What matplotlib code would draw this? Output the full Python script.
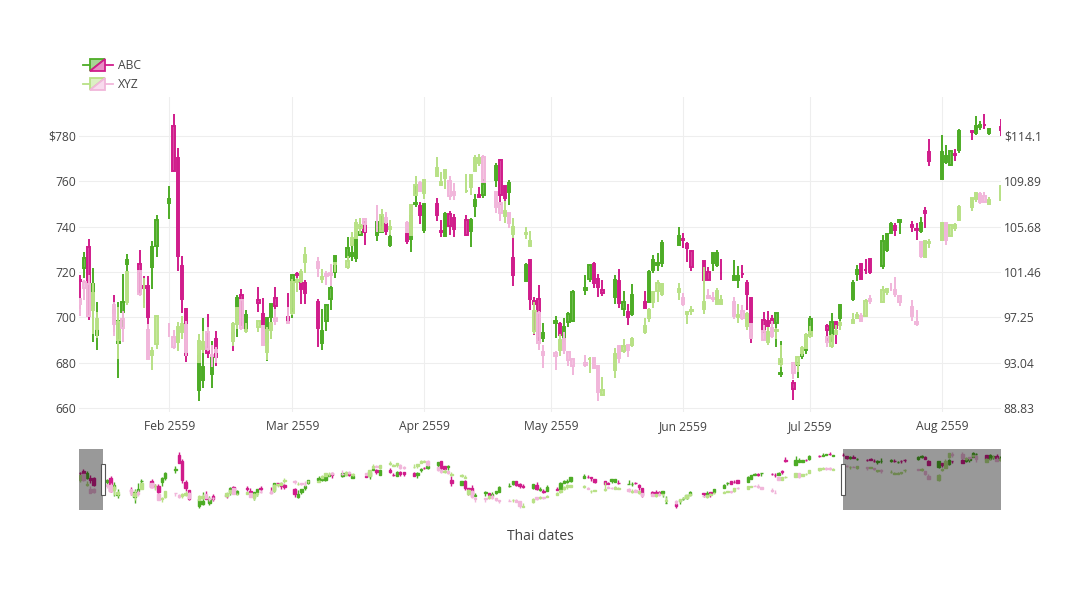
import datetime as dt
import matplotlib
matplotlib.use("Agg")
import matplotlib.pyplot as plt
import matplotlib.dates as mdates
import matplotlib.transforms as mtransforms
from matplotlib.collections import LineCollection, PolyCollection
from matplotlib.patches import Rectangle, Polygon
from matplotlib.lines import Line2D
from matplotlib.legend_handler import HandlerBase
from matplotlib.colors import to_rgba

plt.rcParams['font.family'] = ['Open Sans', 'DejaVu Sans']

# ---------------- data ----------------
dates = (
    ["2016-01-%02d" % d for d in [4, 5, 6, 7, 8, 11, 12, 13, 14, 15, 19, 20, 21, 22, 25, 26, 27, 28, 29]]
    + ["2016-02-%02d" % d for d in [1, 2, 3, 4, 5, 8, 9, 10, 11, 12, 16, 17, 18, 19, 22, 23, 24, 25, 26, 29]]
    + ["2016-03-%02d" % d for d in [1, 2, 3, 4, 7, 8, 9, 10, 11, 14, 15, 16, 17, 18, 21, 22, 23, 24, 28, 29, 30, 31]]
    + ["2016-04-%02d" % d for d in [1, 4, 5, 6, 7, 8, 11, 12, 13, 14, 15, 18, 19, 20, 21, 22, 25, 26, 27, 28, 29]]
    + ["2016-05-%02d" % d for d in [2, 3, 4, 5, 6, 9, 10, 11, 12, 13, 16, 17, 18, 19, 20, 23, 24, 25, 26, 27, 31]]
    + ["2016-06-%02d" % d for d in [1, 2, 3, 6, 7, 8, 9, 10, 13, 14, 15, 16, 17, 20, 21, 22, 23, 24, 27, 28, 29, 30]]
    + ["2016-07-%02d" % d for d in [1, 5, 6, 7, 8, 11, 12, 13, 14, 15, 18, 19, 20, 21, 22, 25, 26, 27, 28, 29]]
    + ["2016-08-%02d" % d for d in [1, 2, 3, 4, 5, 8, 9, 10, 11, 12, 15, 16, 17, 18, 19, 22, 23, 24, 25, 26, 29, 30, 31]]
    + ["2016-09-%02d" % d for d in [1, 2, 6, 7, 8, 9, 12, 13, 14, 15, 16, 19, 20, 21, 22, 23, 26, 27, 28, 29, 30]]
)

abc_open = [
    743.00, 746.45, 730.00, 730.31, 731.45, 716.61, 721.68, 730.85, 705.38, 692.29, 703.30, 688.61, 702.18, 723.60, 723.58, 713.85, 713.67, 722.22, 731.53,
    750.46, 784.50, 770.22, 722.81, 703.87, 667.85, 672.32, 686.86, 675.00, 690.26, 692.98, 699.00, 710.00, 695.03, 707.45, 701.45, 688.92, 700.01, 708.58, 700.32,
    703.62, 719.00, 718.68, 714.99, 706.90, 688.59, 698.47, 708.12, 720.00, 726.81, 726.92, 726.37, 736.45, 741.86, 736.50, 737.46, 742.36, 732.01, 736.79, 734.59, 750.10, 749.25,
    738.60, 750.06, 738.00, 735.77, 745.37, 743.97, 743.02, 738.00, 749.16, 754.01, 753.98, 760.46, 769.51, 758.00, 755.38, 726.30, 716.10, 725.42, 707.29, 708.26, 690.70,
    697.63, 696.87, 690.49, 697.70, 698.38, 712.00, 716.75, 723.41, 717.06, 711.93, 709.13, 715.99, 703.67, 702.36, 701.62, 706.53, 706.86, 720.76, 722.87, 724.01, 731.74,
    734.53, 732.50, 729.27, 724.91, 719.84, 723.96, 722.87, 719.47, 716.51, 716.48, 719.00, 714.91, 708.65, 698.77, 698.40, 699.06, 697.45, 675.17, 671.00, 678.97, 683.00, 685.47,
    692.20, 696.06, 689.98, 698.08, 699.50, 708.05, 719.12, 723.62, 721.08, 725.73, 722.71, 729.89, 737.33, 740.36, 741.86, 740.67, 739.04, 738.28, 747.04, 772.71,
    761.09, 768.69, 767.18, 772.22, 773.78, 782.00, 781.10, 783.75, 785.00, 781.50, 783.75, 780.30, 777.32, 780.01, 775.00, 773.27, 775.48, 770.58, 767.00, 769.00, 768.74, 769.33, 767.01,
    769.25, 773.01, 773.45, 780.00, 778.59, 770.10, 755.13, 764.48, 759.61, 762.89, 769.75, 772.42, 769.00, 772.66, 780.00, 786.59, 782.74, 775.50, 777.85, 781.44, 776.33,
]
abc_high = [
    744.06, 752.00, 747.18, 738.50, 733.23, 718.86, 728.75, 734.74, 721.92, 706.74, 709.98, 706.85, 719.19, 728.13, 729.68, 718.28, 718.24, 733.69, 744.99,
    757.86, 789.87, 774.50, 727.00, 703.99, 684.03, 699.90, 701.31, 689.35, 693.75, 698.00, 709.75, 712.35, 703.08, 713.24, 708.40, 700.00, 705.98, 713.43, 710.89,
    718.81, 720.00, 719.45, 716.49, 708.09, 703.79, 705.68, 716.44, 726.92, 735.50, 732.29, 737.47, 743.07, 742.00, 742.50, 745.00, 745.72, 737.75, 738.99, 747.25, 757.88, 750.85,
    750.34, 752.80, 742.80, 746.24, 747.00, 745.45, 745.00, 743.83, 754.38, 757.31, 761.00, 768.05, 769.90, 758.13, 760.45, 736.12, 723.93, 725.77, 708.98, 714.17, 697.62,
    700.64, 697.84, 699.75, 702.32, 711.86, 718.71, 723.50, 724.48, 719.25, 716.66, 718.48, 721.52, 711.60, 706.00, 714.58, 711.48, 720.97, 727.51, 728.33, 733.94, 739.73,
    737.21, 733.02, 729.49, 724.91, 721.98, 728.57, 729.54, 725.89, 725.44, 722.47, 722.98, 716.65, 708.82, 702.48, 702.77, 700.86, 701.95, 689.40, 672.30, 680.33, 687.43, 692.32,
    700.65, 696.94, 701.68, 698.20, 705.71, 716.51, 722.94, 724.00, 725.52, 725.74, 736.13, 736.99, 742.13, 741.69, 743.24, 742.61, 741.69, 744.46, 748.65, 778.55,
    780.43, 775.84, 773.21, 774.07, 783.04, 782.63, 788.94, 786.81, 789.75, 783.40, 787.49, 780.98, 780.81, 782.86, 777.10, 774.54, 776.44, 774.50, 771.89, 776.08, 774.99, 774.47, 769.09,
    771.02, 773.92, 782.00, 782.73, 780.35, 773.24, 770.29, 766.22, 767.68, 773.80, 769.75, 774.00, 773.33, 777.16, 789.43, 788.93, 782.74, 785.99, 781.81, 785.80, 780.94,
]
abc_low = [
    731.26, 738.64, 728.92, 719.06, 713.00, 703.54, 717.32, 698.61, 689.10, 685.37, 693.41, 673.26, 694.46, 720.12, 710.01, 706.48, 694.39, 712.35, 726.80,
    743.27, 764.65, 720.50, 701.86, 680.15, 663.06, 668.77, 682.13, 668.87, 678.60, 685.05, 691.38, 696.03, 694.05, 702.51, 693.58, 680.78, 690.58, 700.86, 697.68,
    699.77, 712.00, 706.02, 706.02, 686.90, 685.34, 694.00, 703.36, 717.12, 725.15, 724.77, 724.51, 736.00, 731.83, 733.52, 737.46, 736.15, 731.00, 732.50, 728.76, 748.74, 740.94,
    737.00, 742.43, 735.37, 735.56, 736.28, 735.55, 736.05, 731.01, 744.26, 752.71, 752.69, 757.30, 749.33, 750.01, 749.55, 713.61, 715.59, 703.03, 692.36, 689.55, 689.00,
    691.00, 692.01, 689.01, 695.72, 698.11, 710.00, 715.72, 712.80, 709.00, 709.26, 705.65, 704.11, 700.63, 696.80, 700.52, 704.18, 706.86, 719.70, 720.28, 722.31, 731.26,
    730.66, 724.17, 720.56, 714.61, 716.55, 720.58, 722.34, 716.43, 716.51, 713.12, 717.31, 703.26, 688.45, 693.41, 692.01, 693.08, 687.00, 673.45, 663.28, 673.00, 681.41, 683.65,
    692.13, 688.88, 689.09, 688.22, 696.43, 707.24, 715.91, 716.85, 719.11, 719.06, 721.19, 729.00, 737.10, 735.83, 736.56, 737.50, 734.27, 737.00, 739.30, 766.77,
    761.09, 767.85, 766.82, 768.80, 772.34, 778.09, 780.57, 782.78, 782.97, 780.40, 780.11, 773.44, 773.53, 777.00, 773.13, 770.05, 771.78, 767.07, 763.18, 765.85, 766.62, 766.84, 765.38,
    764.30, 768.41, 771.00, 776.20, 773.58, 759.66, 754.00, 755.80, 759.11, 759.96, 764.66, 764.44, 768.53, 768.30, 780.00, 784.15, 773.07, 774.31, 774.97, 773.62, 774.09,
]
abc_close = [
    741.84, 742.58, 743.62, 726.39, 714.47, 716.03, 726.07, 700.56, 714.72, 694.45, 701.79, 698.45, 706.59, 725.25, 711.67, 713.04, 699.99, 730.96, 742.95,
    752.00, 764.65, 726.95, 708.01, 683.57, 682.74, 678.11, 684.12, 683.11, 682.40, 691.00, 708.40, 697.35, 700.91, 706.46, 695.85, 699.56, 705.75, 705.07, 697.77,
    718.81, 718.85, 712.42, 710.89, 695.16, 693.97, 705.24, 712.82, 726.82, 730.49, 728.33, 736.09, 737.78, 737.60, 742.09, 740.75, 738.06, 735.30, 733.53, 744.77, 750.53, 744.95,
    749.91, 745.29, 737.80, 745.69, 740.28, 739.15, 736.10, 743.09, 751.72, 753.20, 759.00, 766.61, 753.93, 752.67, 759.14, 718.77, 723.15, 708.14, 705.84, 691.02, 693.01,
    698.21, 692.36, 695.70, 701.43, 711.12, 712.90, 723.18, 715.29, 713.31, 710.83, 716.49, 706.23, 706.63, 700.32, 709.74, 704.24, 720.09, 725.27, 724.12, 732.66, 735.72,
    734.15, 730.40, 722.34, 716.55, 716.65, 728.28, 728.58, 719.41, 718.36, 718.27, 718.92, 710.36, 691.72, 693.71, 695.94, 697.46, 701.87, 675.22, 668.26, 680.04, 684.11, 692.10,
    699.21, 694.49, 697.77, 695.36, 705.63, 715.09, 720.64, 716.98, 720.95, 719.85, 733.78, 736.96, 741.19, 738.63, 742.74, 739.77, 738.42, 741.77, 745.91, 768.79,
    772.88, 771.07, 773.18, 771.61, 782.22, 781.76, 784.26, 784.68, 784.85, 783.22, 782.44, 777.14, 779.91, 777.50, 775.42, 772.15, 772.08, 769.64, 769.41, 769.54, 772.15, 769.09, 767.05,
    768.78, 771.46, 780.08, 780.35, 775.32, 759.66, 769.02, 759.69, 762.49, 771.76, 768.88, 765.70, 771.41, 776.22, 787.21, 786.90, 774.21, 783.01, 781.56, 775.01, 777.29,
]

xyz_open = [
    102.61, 105.75, 100.56, 98.68, 98.55, 98.97, 100.55, 100.32, 97.96, 96.20, 98.41, 95.10, 97.06, 98.63, 101.52, 99.93, 96.04, 93.79, 94.79,
    96.47, 95.42, 95.00, 95.86, 96.52, 93.13, 94.29, 95.92, 93.79, 94.19, 95.02, 96.67, 98.84, 96.00, 96.31, 96.40, 93.98, 96.05, 97.20, 96.86,
    97.65, 100.51, 100.58, 102.37, 102.39, 100.78, 101.31, 101.41, 102.24, 101.91, 103.96, 104.61, 105.52, 106.34, 105.93, 105.25, 106.48, 105.47, 106.00, 104.89, 108.65, 109.72,
    108.78, 110.42, 109.51, 110.23, 109.95, 108.91, 108.97, 109.34, 110.80, 111.62, 112.11, 108.89, 107.88, 106.64, 106.93, 105.01, 105.00, 103.91, 96.00, 97.61, 93.99,
    93.97, 94.20, 95.20, 94.00, 93.37, 93.00, 93.33, 93.48, 92.72, 90.00, 92.39, 94.55, 94.16, 94.64, 94.64, 95.87, 97.22, 98.67, 99.68, 99.44, 99.60,
    99.02, 97.60, 97.79, 97.99, 99.25, 99.02, 98.50, 98.53, 98.69, 97.32, 97.82, 96.45, 96.62, 96.00, 94.94, 96.25, 95.94, 92.91, 93.00, 92.90, 93.97, 94.44,
    95.49, 95.39, 94.60, 95.70, 96.49, 96.75, 97.17, 97.41, 97.39, 98.92, 98.70, 99.56, 100.00, 99.83, 99.26, 98.25, 96.82, 104.27, 102.83, 104.19,
    104.41, 106.05, 104.81, 105.58, 106.27, 107.52, 108.23, 108.71, 108.52, 107.78, 108.14, 109.63, 109.10, 109.23, 108.77, 108.86, 108.59, 108.57, 107.39, 107.41, 106.62, 105.80, 105.66,
    106.14, 107.70, 107.90, 107.83, 107.25, 104.64, 102.65, 107.51, 108.73, 113.86, 115.12, 115.19, 113.05, 113.85, 114.35, 114.42, 111.64, 113.00, 113.69, 113.16, 112.46,
]
xyz_high = [
    105.37, 105.85, 102.37, 100.13, 99.11, 99.06, 100.69, 101.19, 100.48, 97.71, 98.65, 98.19, 97.88, 101.46, 101.53, 100.88, 96.63, 94.52, 97.34,
    96.71, 96.04, 96.84, 97.33, 96.92, 95.70, 95.94, 96.35, 94.72, 94.50, 96.85, 98.21, 98.89, 96.76, 96.90, 96.50, 96.38, 96.76, 98.02, 98.23,
    100.77, 100.89, 101.71, 103.75, 102.83, 101.76, 101.58, 102.24, 102.28, 102.91, 105.18, 106.35, 106.47, 106.50, 107.65, 107.29, 107.07, 106.25, 106.19, 107.79, 110.42, 109.90,
    110.00, 112.19, 110.73, 110.98, 110.42, 109.77, 110.61, 110.50, 112.34, 112.39, 112.30, 108.95, 108.00, 108.09, 106.93, 106.48, 105.65, 105.30, 98.71, 97.88, 94.72,
    94.08, 95.74, 95.90, 94.07, 93.45, 93.77, 93.57, 93.57, 92.78, 91.67, 94.39, 94.70, 95.21, 94.64, 95.43, 97.19, 98.09, 99.74, 100.73, 100.47, 100.40,
    99.54, 97.84, 98.27, 101.89, 99.87, 99.56, 99.99, 99.35, 99.12, 98.48, 98.41, 97.75, 96.65, 96.57, 96.35, 96.89, 96.29, 94.66, 93.05, 93.66, 94.55, 95.77,
    96.47, 95.40, 95.66, 96.50, 96.89, 97.65, 97.70, 97.67, 98.99, 99.30, 100.13, 100.00, 100.46, 101.00, 99.30, 98.84, 97.97, 104.35, 104.45, 104.55,
    106.15, 106.07, 105.84, 106.00, 107.65, 108.37, 108.94, 108.90, 108.93, 108.44, 109.54, 110.23, 109.37, 109.60, 109.69, 109.10, 109.32, 108.75, 107.88, 107.95, 107.44, 106.50, 106.57,
    106.80, 108.00, 108.30, 108.76, 107.27, 105.72, 105.72, 108.79, 113.03, 115.73, 116.13, 116.18, 114.12, 113.99, 114.94, 114.79, 113.39, 113.18, 114.64, 113.80, 113.37,
]
xyz_low = [
    102.00, 102.41, 99.87, 96.43, 96.76, 97.34, 98.84, 97.30, 95.74, 95.36, 95.50, 93.42, 94.94, 98.37, 99.21, 98.07, 93.34, 92.39, 94.35,
    95.40, 94.28, 94.08, 95.19, 93.69, 93.04, 93.93, 94.10, 92.59, 93.01, 94.61, 96.15, 96.09, 95.80, 95.92, 94.55, 93.32, 95.25, 96.58, 96.65,
    97.42, 99.64, 100.45, 101.37, 100.96, 100.40, 100.27, 100.15, 101.50, 101.78, 103.85, 104.59, 104.96, 105.19, 105.14, 105.21, 105.90, 104.89, 105.06, 104.88, 108.60, 108.88,
    108.20, 110.27, 109.42, 109.20, 108.12, 108.17, 108.83, 108.66, 110.80, 111.33, 109.73, 106.94, 106.23, 106.06, 105.52, 104.62, 104.51, 103.91, 95.68, 94.25, 92.51,
    92.40, 93.68, 93.82, 92.68, 91.85, 92.59, 92.11, 92.46, 89.47, 90.00, 91.65, 93.01, 93.89, 93.57, 94.52, 95.67, 96.84, 98.11, 98.64, 99.25, 98.82,
    98.33, 96.63, 97.45, 97.55, 98.96, 98.68, 98.46, 98.48, 97.10, 96.75, 97.03, 96.07, 95.30, 95.03, 94.68, 95.35, 95.25, 92.65, 91.50, 92.14, 93.63, 94.30,
    95.33, 94.46, 94.37, 95.62, 96.05, 96.73, 97.12, 96.84, 97.32, 98.50, 98.60, 99.34, 99.74, 99.13, 98.31, 96.92, 96.42, 102.75, 102.82, 103.68,
    104.41, 104.00, 104.77, 105.28, 106.18, 107.16, 108.01, 107.76, 107.85, 107.78, 108.08, 109.21, 108.34, 109.02, 108.36, 107.85, 108.53, 107.68, 106.68, 106.31, 106.29, 105.50, 105.64,
    105.62, 106.82, 107.51, 107.07, 105.24, 103.13, 102.53, 107.24, 108.60, 113.49, 114.04, 113.25, 112.51, 112.44, 114.00, 111.55, 111.55, 112.34, 113.43, 111.80, 111.80,
]
xyz_close = [
    105.35, 102.71, 100.70, 96.45, 96.96, 98.53, 99.96, 97.39, 99.52, 97.13, 96.66, 96.79, 96.30, 101.42, 99.44, 99.99, 93.42, 94.09, 97.34,
    96.43, 94.48, 96.35, 96.60, 94.02, 95.01, 94.99, 94.27, 93.70, 93.99, 96.64, 98.12, 96.26, 96.04, 96.88, 94.69, 96.10, 96.76, 96.91, 96.69,
    100.53, 100.75, 101.50, 103.01, 101.87, 101.03, 101.12, 101.17, 102.26, 102.52, 104.58, 105.97, 105.80, 105.92, 105.91, 106.72, 106.13, 105.67, 105.19, 107.68, 109.56, 108.99,
    109.99, 111.12, 109.81, 110.96, 108.54, 108.66, 109.02, 110.44, 112.04, 112.10, 109.85, 107.48, 106.91, 107.13, 105.97, 105.68, 105.08, 104.35, 97.82, 94.83, 93.74,
    93.64, 95.18, 94.19, 93.24, 92.72, 92.79, 93.42, 92.51, 90.34, 90.52, 93.88, 93.49, 94.56, 94.20, 95.22, 96.43, 97.90, 99.62, 100.41, 100.35, 99.86,
    98.46, 97.72, 97.92, 98.63, 99.03, 98.94, 99.65, 98.83, 97.34, 97.46, 97.14, 97.55, 95.33, 95.10, 95.91, 95.55, 96.10, 93.40, 92.04, 93.59, 94.40, 95.60,
    95.89, 94.99, 95.53, 95.94, 96.68, 96.98, 97.42, 96.87, 98.79, 98.78, 99.83, 99.87, 99.96, 99.43, 98.66, 97.34, 96.67, 102.95, 104.34, 104.21,
    106.05, 104.48, 105.79, 105.87, 107.48, 108.37, 108.81, 108.00, 107.93, 108.18, 109.48, 109.38, 109.22, 109.08, 109.36, 108.51, 108.85, 108.03, 107.57, 106.94, 106.82, 106.00, 106.10,
    106.73, 107.73, 107.70, 108.36, 105.52, 103.13, 105.44, 107.95, 111.77, 115.57, 114.92, 113.58, 113.57, 113.55, 114.62, 112.71, 112.88, 113.09, 113.95, 112.18, 113.05,
]

series_names = ["ABC", "XYZ"]
abc_inc, abc_dec = "#4dac26", "#d01c8b"
xyz_inc, xyz_dec = "#b8e186", "#f1b6da"

month_ticks = ["2016-02-01", "2016-03-01", "2016-04-01", "2016-05-01", "2016-06-01", "2016-07-01", "2016-08-01"]
month_labels = ["Feb 2559", "Mar 2559", "Apr 2559", "May 2559", "Jun 2559", "Jul 2559", "Aug 2559"]

left_ticks = [660, 680, 700, 720, 740, 760, 780]
left_tick_labels = ["660", "680", "700", "720", "740", "760", "$780"]
right_ticks = [88.83, 93.04, 97.25, 101.46, 105.68, 109.89, 114.1]
right_tick_labels = ["88.83", "93.04", "97.25", "101.46", "105.68", "109.89", "$114.1"]
left_range = (658.2, 797.2)

main_range = ["2016-01-10 17:30", "2016-08-14 21:40"]
slider_range = ["2016-01-03 16:48", "2016-09-30 07:12"]
x_title = "Thai dates"

# ---------------- helpers ----------------
n = len(dates)
for arr in (abc_open, abc_high, abc_low, abc_close, xyz_open, xyz_high, xyz_low, xyz_close):
    assert len(arr) == n, (len(arr), n)

def tonum(s):
    fmt = "%Y-%m-%d %H:%M" if " " in s else "%Y-%m-%d"
    return mdates.date2num(dt.datetime.strptime(s, fmt))

xs = [tonum(d) for d in dates]

# right axis shares the left gridlines: linear map between tick sets
k = (right_ticks[-1] - right_ticks[0]) / (left_ticks[-1] - left_ticks[0])
def l2r(v):
    return right_ticks[0] + (v - left_ticks[0]) * k
right_range = (l2r(left_range[0]), l2r(left_range[1]))

def draw_candles(ax, o, h, l, c, inc, dec, body_w, lw, z, fill_alpha=0.8):
    segs, scol, polys, fcol, ecol = [], [], [], [], []
    for x, oo, hh, ll, cc in zip(xs, o, h, l, c):
        col = inc if cc > oo else dec
        lo, hi = min(oo, cc), max(oo, cc)
        segs += [[(x, ll), (x, lo)], [(x, hi), (x, hh)]]
        scol += [col, col]
        polys.append([(x - body_w / 2, lo), (x + body_w / 2, lo),
                      (x + body_w / 2, hi), (x - body_w / 2, hi)])
        fcol.append(to_rgba(col, fill_alpha))
        ecol.append(col)
    ax.add_collection(LineCollection(segs, colors=scol, linewidths=lw, zorder=z, capstyle="butt"))
    ax.add_collection(PolyCollection(polys, facecolors=fcol, edgecolors=ecol,
                                     linewidths=lw, zorder=z + 0.1, joinstyle="miter"))

def blend_white(c, a=0.5):
    r, g, b, _ = to_rgba(c)
    return (1 - a + a * r, 1 - a + a * g, 1 - a + a * b, 1)

class CandleLegend(HandlerBase):
    def __init__(self, inc, dec):
        super().__init__()
        self.inc, self.dec = inc, dec

    def create_artists(self, legend, orig_handle, xdescent, ydescent, width, height, fontsize, trans):
        x0, y0 = -xdescent, -ydescent
        ym = y0 + height / 2
        bl, br = x0 + 0.24 * width, x0 + 0.76 * width
        bb, bt = ym - 4.3, ym + 4.3
        lw = 1.3
        a1 = Line2D([x0, bl], [ym, ym], color=self.inc, lw=lw, transform=trans)
        a2 = Line2D([br, x0 + width], [ym, ym], color=self.dec, lw=lw, transform=trans)
        t1 = Polygon([[bl, bb], [bl, bt], [br, bt]], closed=True, facecolor=blend_white(self.inc),
                     edgecolor=self.inc, lw=lw, transform=trans)
        t2 = Polygon([[bl, bb], [br, bb], [br, bt]], closed=True, facecolor=blend_white(self.dec),
                     edgecolor=self.dec, lw=lw, transform=trans)
        return [a1, a2, t1, t2]

# ---------------- figure ----------------
W, H = 1080, 589
fig = plt.figure(figsize=(W / 100, H / 100), dpi=100)
fig.patch.set_facecolor("white")

px_l, px_r, px_t, px_b = 79, 1001, 97, 412
ax = fig.add_axes([px_l / W, 1 - px_b / H, (px_r - px_l) / W, (px_b - px_t) / H])
ax2 = ax.twinx()

draw_candles(ax, abc_open, abc_high, abc_low, abc_close, abc_inc, abc_dec, 0.55, 1.4, 3)
draw_candles(ax2, xyz_open, xyz_high, xyz_low, xyz_close, xyz_inc, xyz_dec, 0.55, 1.4, 3)

x0m, x1m = tonum(main_range[0]), tonum(main_range[1])
ax.set_xlim(x0m, x1m)
ax.set_ylim(*left_range)
ax2.set_ylim(*right_range)

ax.set_xticks([tonum(d) for d in month_ticks])
ax.set_xticklabels(month_labels)
ax.set_yticks(left_ticks)
ax.set_yticklabels(left_tick_labels)
ax2.set_yticks(right_ticks)
ax2.set_yticklabels(right_tick_labels)

for a in (ax, ax2):
    for sp in a.spines.values():
        sp.set_visible(False)
    a.tick_params(length=0, labelsize=8.7, labelcolor="#444444")
ax.tick_params(axis="x", pad=6)
ax.tick_params(axis="y", pad=2)
ax2.tick_params(axis="y", pad=2)
ax.grid(True, color="#eeeeee", linewidth=0.75)
ax.set_axisbelow(True)

# ---------------- range slider ----------------
s_t, s_b = 449, 510
sl = fig.add_axes([px_l / W, 1 - s_b / H, (px_r - px_l) / W, (s_b - s_t) / H])
sl2 = sl.twinx()
draw_candles(sl, abc_open, abc_high, abc_low, abc_close, abc_inc, abc_dec, 0.7, 1.0, 3, 1.0)
draw_candles(sl2, xyz_open, xyz_high, xyz_low, xyz_close, xyz_inc, xyz_dec, 0.7, 1.0, 3, 1.0)
xs0, xs1 = tonum(slider_range[0]), tonum(slider_range[1])
for a in (sl, sl2):
    a.set_xlim(xs0, xs1)
    a.set_xticks([])
    a.set_yticks([])
    for sp in a.spines.values():
        sp.set_visible(False)
sl.set_ylim(*left_range)
sl2.set_ylim(*right_range)

blend = mtransforms.blended_transform_factory(sl2.transData, sl2.transAxes)
sl2.add_patch(Rectangle((xs0, 0), x0m - xs0, 1, transform=blend, facecolor="black",
                        alpha=0.4, lw=0, zorder=10))
sl2.add_patch(Rectangle((x1m, 0), xs1 - x1m, 1, transform=blend, facecolor="black",
                        alpha=0.4, lw=0, zorder=10))
hw = (xs1 - xs0) * 4.0 / (px_r - px_l)
for xb in (x0m, x1m):
    sl2.add_patch(Rectangle((xb - hw / 2, 0.24), hw, 0.52, transform=blend, facecolor="white",
                            edgecolor="#555555", lw=0.8, zorder=11, clip_on=False))

fig.text((px_l + px_r) / 2 / W, 1 - 536 / H, x_title, ha="center", va="center",
         fontsize=10, color="#444444")

# ---------------- legend ----------------
p1 = Rectangle((0, 0), 1, 1)
p2 = Rectangle((0, 0), 1, 1)
fig.legend(handles=[p1, p2], labels=series_names,
           handler_map={p1: CandleLegend(abc_inc, abc_dec), p2: CandleLegend(xyz_inc, xyz_dec)},
           loc="upper left", bbox_to_anchor=(83 / W, 1 - 59 / H), frameon=False,
           fontsize=8.7, handlelength=2.45, handleheight=1.0, handletextpad=0.45,
           labelspacing=0.5, borderpad=0, borderaxespad=0, labelcolor="#444444")

fig.savefig("out.png", dpi=100, facecolor="white")
